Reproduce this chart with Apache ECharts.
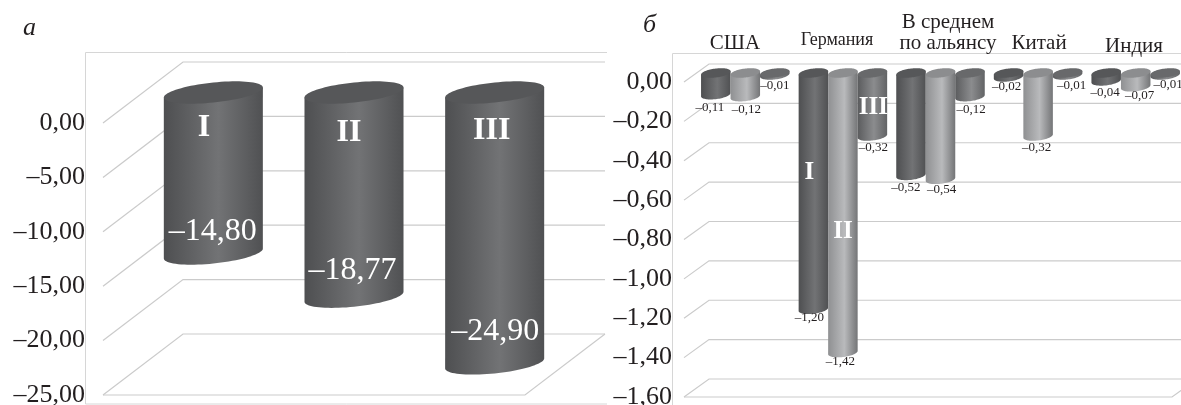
<!DOCTYPE html>
<html>
<head>
<meta charset="utf-8">
<script src="https://cdn.jsdelivr.net/npm/echarts@6/dist/echarts.min.js"></script>
<style>html,body{margin:0;padding:0;background:#fff}#c{width:1181px;height:405px}</style>
</head>
<body>
<div id="c"></div>
<script>
// ---- data ----
const leftCategories = ['I', 'II', 'III'];
const leftValues = [-14.80, -18.77, -24.90];
const leftTicks = [0, -5, -10, -15, -20, -25];

const rightCategories = ['США', 'Германия', 'В среднем\nпо альянсу', 'Китай', 'Индия'];
const rightSeriesI = [-0.11, -1.20, -0.52, -0.02, -0.04];
const rightSeriesII = [-0.12, -1.42, -0.54, -0.32, -0.07];
const rightSeriesIII = [-0.01, -0.32, -0.12, -0.01, -0.01];
const rightTicks = [0, -0.2, -0.4, -0.6, -0.8, -1, -1.2, -1.4, -1.6];

// ---- styling / layout (not data) ----
const FONT = '"Liberation Serif", "Times New Roman", serif';
const TEXT = '#231f20';
const LINE = '#cbcbcb';
const L = {dx: 80, dy: 61, barRatio: 0.704, skew: 5, minor: 10};
const R = {dx: 25, dy: 18, barRatio: 0.9069, skew: 1.7, minor: 4.5};

const fmt = v => (v < 0 ? '–' : '') + Math.abs(v).toFixed(2).replace('.', ',');

function grad(edgeL, mid, edgeR) {
  return {type: 'linear', x: 0, y: 0, x2: 1, y2: 0, colorStops: [
    {offset: 0, color: edgeL}, {offset: 0.55, color: mid}, {offset: 1, color: edgeR}]};
}
const DARK = {body: grad('#4e4f51', '#727375', '#505153'), top: '#565759'};
const LIGHT = {body: grad('#8f9092', '#b9babc', '#747577'), top: '#8c8d8f'};
const MID = {body: grad('#5b5c5e', '#8b8c8e', '#626365'), top: '#68696b'};

function wallSeries(gridIndex, ticks, cfg) {
  return {
    type: 'custom', xAxisIndex: gridIndex, yAxisIndex: gridIndex, z: 1, silent: true,
    data: ticks.map(t => [0, t]),
    renderItem(params, api) {
      const r = params.coordSys;
      const y = api.coord([0, api.value(1)])[1];
      const x0 = r.x, x1 = r.x + r.width;
      const children = [{
        type: 'polyline',
        shape: {points: [[x0, y], [x0 + cfg.dx, y - cfg.dy], [x1 + cfg.dx, y - cfg.dy]]},
        style: {stroke: LINE, lineWidth: 1.2, fill: null}
      }];
      if (params.dataIndex === ticks.length - 1) {
        children.push({
          type: 'polyline',
          shape: {points: [[x0, y], [x1, y], [x1 + cfg.dx, y - cfg.dy]]},
          style: {stroke: LINE, lineWidth: 1.2, fill: null}
        });
      }
      return {type: 'group', children};
    }
  };
}

function cylinderSeries(gridIndex, name, values, seriesIdx, seriesCount, cfg, look) {
  return {
    type: 'custom', name, xAxisIndex: gridIndex, yAxisIndex: gridIndex, z: 3 + seriesIdx, silent: true,
    data: values.map((v, i) => [i, v]),
    renderItem(params, api) {
      const i = params.dataIndex;
      const band = api.size([1, 0])[0];
      const w = band * cfg.barRatio / seriesCount;
      const a = w / 2;
      const base = api.coord([i, 0]);
      const tip = api.coord([i, api.value(1)]);
      const cx = base[0] + cfg.dx / 2 + (seriesIdx - (seriesCount - 1) / 2) * w;
      const y0 = base[1] - cfg.dy / 2;
      const yv = tip[1] - cfg.dy / 2;
      const N = 40;
      const body = [[cx - a, y0 + cfg.skew]];
      for (let k = 0; k <= N; k++) {
        const t = Math.PI * (1 - k / N);
        body.push([cx + a * Math.cos(t), yv - cfg.skew * Math.cos(t) + cfg.minor * Math.sin(t)]);
      }
      body.push([cx + a, y0 - cfg.skew]);
      const top = [];
      for (let k = 0; k < 2 * N; k++) {
        const t = Math.PI * k / N;
        top.push([cx + a * Math.cos(t), y0 - cfg.skew * Math.cos(t) + cfg.minor * Math.sin(t)]);
      }
      return {type: 'group', children: [
        {type: 'polygon', shape: {points: body}, style: {fill: look.body}},
        {type: 'polygon', shape: {points: top}, style: {fill: look.top}}
      ]};
    }
  };
}

// a text layer anchored on the axes; each entry: category index, axis value, text + nudge
function textSeries(gridIndex, items) {
  return {
    type: 'custom', xAxisIndex: gridIndex, yAxisIndex: gridIndex, z: 20, silent: true,
    data: items.map(it => [it.cat, it.val]),
    renderItem(params, api) {
      const it = items[params.dataIndex];
      const p = api.coord([it.cat, it.val]);
      const sx = it.series === undefined ? 0 : (it.series - 1) * api.size([1, 0])[0] * R.barRatio / 3;
      return {
        type: 'text', z2: 30,
        x: p[0] + sx + (it.dx || 0), y: p[1] + (it.dy || 0),
        style: {
          text: it.text, fill: it.color || TEXT, align: 'center', verticalAlign: 'middle',
          font: (it.bold ? 'bold ' : '') + it.size + 'px ' + FONT, lineHeight: it.size
        }
      };
    }
  };
}

// left panel annotations
const leftText = [];
const leftNudge = [[-0.5, -52], [-1.5, -57], [0.5, -62]];
const leftRoman = [[-9.4, 5], [-5, 10], [-3, 8]];
leftValues.forEach((v, i) => {
  leftText.push({cat: i, val: v, text: fmt(v), size: 32, color: '#fff', dx: 40 + leftNudge[i][0], dy: leftNudge[i][1]});
  leftText.push({cat: i, val: 0, text: leftCategories[i], size: 32, bold: true, color: '#fff',
    dx: 40 + leftRoman[i][0], dy: leftRoman[i][1]});
});

// right panel annotations
const valueShifts = [
  [[-6, 3.5], [-4, -0.5], [-5, 3.5], [-2, 1], [-1, 3]],
  [[1, 3.5], [-2.5, 0.5], [1, 1.5], [-1.5, 3], [4, 0]],
  [[0, 2], [1, 3], [1, 3.5], [4, 2], [3, 1]]
];
const rightText = [];
[rightSeriesI, rightSeriesII, rightSeriesIII].forEach((vals, s) => {
  vals.forEach((v, i) => {
    rightText.push({cat: i, val: v, series: s, text: fmt(v), size: 13,
      dx: R.dx / 2 + valueShifts[s][i][0], dy: valueShifts[s][i][1]});
  });
});
rightText.push({cat: 1, val: 0, text: 'I', size: 25, bold: true, color: '#fff', series: 0, dx: 8.5, dy: 91});
rightText.push({cat: 1, val: 0, text: 'II', size: 25, bold: true, color: '#fff', series: 1, dx: 12.5, dy: 150});
rightText.push({cat: 1, val: 0, text: 'III', size: 25, bold: true, color: '#fff', series: 2, dx: 13.5, dy: 26});
const catNudge = [[2.2, -39, 21], [6.6, -42, 18], [20, -49.5, 21], [13.4, -39, 21], [10.8, -36, 21]];
rightCategories.forEach((c, i) => {
  rightText.push({cat: i, val: 0, text: c, size: catNudge[i][2], dx: catNudge[i][0], dy: catNudge[i][1]});
});

function yAxis(gridIndex, min, max, interval, margin) {
  return {
    type: 'value', gridIndex, min, max, interval,
    axisLine: {show: false}, axisTick: {show: false}, splitLine: {show: false},
    axisLabel: {fontFamily: FONT, fontSize: 26, color: TEXT, margin, formatter: v => fmt(v), showMinLabel: true, showMaxLabel: true}
  };
}
function xAxis(gridIndex, data) {
  return {type: 'category', gridIndex, data: data, show: false, boundaryGap: true};
}

const chart = echarts.init(document.getElementById('c'), null, {renderer: 'canvas'});
chart.setOption({
  animation: false,
  backgroundColor: '#fff',
  grid: [
    {left: 103, top: 123, width: 422, height: 272, outerBoundsMode: 'none'},
    {left: 684, top: 82, width: 488, height: 315, outerBoundsMode: 'none'}
  ],
  xAxis: [xAxis(0, leftCategories), xAxis(1, rightCategories)],
  yAxis: [yAxis(0, -25, 0, 5, 18), yAxis(1, -1.6, 0, 0.2, 12)],
  graphic: [
    {type: 'polyline', silent: true, z: 0, shape: {points: [[607, 52.5], [85.5, 52.5], [85.5, 404], [607, 404]]}, style: {stroke: '#d6d6d6', lineWidth: 1, fill: null}},
    {type: 'polyline', silent: true, z: 0, shape: {points: [[1181, 53.5], [672.5, 53.5], [672.5, 405]]}, style: {stroke: '#d6d6d6', lineWidth: 1, fill: null}},
    {type: 'text', silent: true, x: 23, y: 15, style: {text: 'а', font: 'italic 26px ' + FONT, fill: TEXT}},
    {type: 'text', silent: true, x: 643, y: 12, style: {text: 'б', font: 'italic 26px ' + FONT, fill: TEXT}}
  ],
  series: [
    wallSeries(0, leftTicks, L),
    wallSeries(1, rightTicks, R),
    cylinderSeries(0, 'a', leftValues, 0, 1, L, DARK),
    cylinderSeries(1, 'I', rightSeriesI, 0, 3, R, DARK),
    cylinderSeries(1, 'II', rightSeriesII, 1, 3, R, LIGHT),
    cylinderSeries(1, 'III', rightSeriesIII, 2, 3, R, MID),
    textSeries(0, leftText),
    textSeries(1, rightText)
  ]
});
</script>
</body>
</html>
